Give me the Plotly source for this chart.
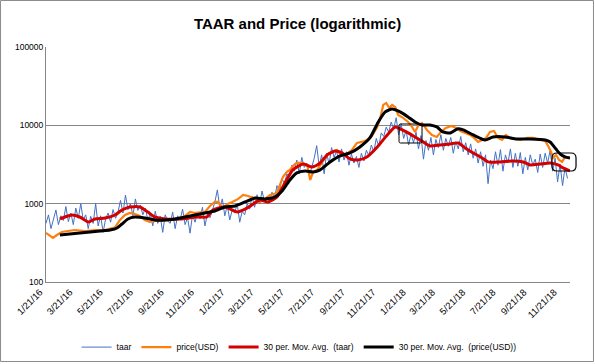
import pandas as pd
import plotly.graph_objects as go

# ---------------- data ----------------
taar_start = "2016-01-21"
taar = [
    560, 720, 480, 650, 830, 540, 700, 610, 920, 590,
    760, 540, 880, 650, 1000, 620, 720, 480, 690, 560,
    1000, 520, 700, 430, 640, 760, 580, 840, 650, 780,
    1100, 760, 1290, 840, 1000, 700, 1150, 820, 960, 720,
    880, 620, 740, 520, 800, 560, 690, 430, 720, 600,
    560, 780, 480, 700, 620, 850, 540, 660, 420, 720,
    580, 760, 640, 900, 520, 740, 660, 820, 1050, 1500,
    880, 1150, 700, 950, 620, 840, 760, 1000, 580, 800,
    720, 1000, 850, 1250, 900, 1300, 1000, 1450, 1050, 1200,
    1050, 1400, 1150, 1700, 1450, 2100, 1800, 2400, 2200, 3100,
    2600, 3600, 2400, 3900, 2900, 3300, 2300, 2900, 3800, 5500,
    3000, 4200, 2400, 4400, 3200, 5200, 3900, 4700, 3400, 5000,
    3600, 4600, 3100, 4300, 3300, 4000, 2900, 4400, 3500, 4800,
    4100, 5600, 4600, 6800, 5400, 8000, 7200, 9500, 8200, 11000,
    9000, 12500, 7600, 10500, 6800, 8600, 5600, 7800, 6000, 8200,
    5000, 7400, 3700, 6400, 4800, 7000, 4200, 6600, 5200, 7600,
    4800, 6800, 5400, 7000, 4400, 6200, 5000, 7200, 4600, 6000,
    4200, 5800, 3800, 5000, 3300, 4600, 3000, 4200, 1800, 3600,
    2800, 4600, 3100, 4900, 2600, 4200, 3300, 5000, 2900, 4400,
    3000, 4500, 2400, 3900, 2700, 4200, 3100, 3700, 2500, 4300,
    2900, 4400, 3300, 4800, 2600, 3800, 1900, 3200, 1700, 2900, 2100,
]
taar_dates = pd.date_range(taar_start, periods=len(taar), freq="5D")

price_dates = [
    "2016-01-21", "2016-01-29", "2016-02-04", "2016-02-12", "2016-02-22", "2016-03-05",
    "2016-03-19", "2016-04-09", "2016-04-29", "2016-05-19", "2016-05-29", "2016-06-08",
    "2016-06-18", "2016-06-28", "2016-07-08", "2016-07-18", "2016-07-28", "2016-08-07",
    "2016-08-17", "2016-08-27", "2016-09-07", "2016-09-27", "2016-10-17", "2016-10-27",
    "2016-11-06", "2016-11-16", "2016-12-06", "2016-12-16", "2016-12-26", "2017-01-01",
    "2017-01-11", "2017-01-21", "2017-01-30", "2017-02-11", "2017-02-21", "2017-03-03",
    "2017-03-13", "2017-03-27", "2017-04-06", "2017-04-16", "2017-04-30", "2017-05-06",
    "2017-05-12", "2017-05-20", "2017-05-26", "2017-06-03", "2017-06-09", "2017-06-20",
    "2017-06-30", "2017-07-06", "2017-07-12", "2017-07-20", "2017-07-30", "2017-08-09",
    "2017-08-19", "2017-08-29", "2017-09-08", "2017-09-18", "2017-09-28", "2017-10-08",
    "2017-10-18", "2017-10-28", "2017-11-07", "2017-11-18", "2017-11-24", "2017-11-30",
    "2017-12-06", "2017-12-12", "2017-12-18", "2017-12-24", "2017-12-30", "2018-01-09",
    "2018-01-19", "2018-01-27", "2018-02-02", "2018-02-08", "2018-02-16", "2018-02-26",
    "2018-03-08", "2018-03-18", "2018-03-26", "2018-04-05", "2018-04-16", "2018-04-26",
    "2018-05-04", "2018-05-14", "2018-05-24", "2018-06-01", "2018-06-09", "2018-06-17",
    "2018-06-25", "2018-07-03", "2018-07-11", "2018-07-19", "2018-07-27", "2018-08-04",
    "2018-08-12", "2018-08-22", "2018-09-02", "2018-09-16", "2018-09-28", "2018-10-12",
    "2018-10-22", "2018-10-28", "2018-11-03", "2018-11-07", "2018-11-13", "2018-11-19",
    "2018-11-25", "2018-12-01", "2018-12-07", "2018-12-11",
]
price = [
    423, 387, 365, 398, 435, 448,
    461, 448, 461, 461, 475, 500,
    619, 717, 761, 739, 697, 619,
    584, 601, 601, 619, 657, 697,
    783, 761, 783, 935, 1051, 1051,
    881, 991, 1051, 1150, 1291, 1254,
    1183, 1051, 1150, 1291, 1370, 1733,
    2193, 2541, 2695, 3120, 3310, 3310,
    3120, 2008, 2541, 2695, 3410, 4190,
    4575, 4850, 4070, 4320, 4850, 5960,
    6140, 6510, 7320, 9540, 12430, 18200,
    19300, 16700, 18200, 17180, 13580, 12430,
    11050, 9540, 8235, 9825, 10730, 8735,
    7540, 7110, 8235, 9265, 9825, 9265,
    8480, 8000, 7540, 6905, 6140, 6510,
    6905, 8235, 8480, 6905, 6510, 7540,
    6905, 6700, 6510, 6905, 6905, 6510,
    6330, 5460, 4575, 3835, 4190, 3615,
    3410, 3950, 3835, 3835,
]

ma_taar_dates = [
    "2016-02-18", "2016-02-28", "2016-03-13", "2016-03-29", "2016-04-15", "2016-04-29",
    "2016-05-19", "2016-06-08", "2016-06-22", "2016-07-08", "2016-07-28", "2016-08-13",
    "2016-08-27", "2016-09-17", "2016-10-17", "2016-11-20", "2016-12-10", "2016-12-22",
    "2017-01-15", "2017-02-09", "2017-03-01", "2017-03-27", "2017-04-12", "2017-04-30",
    "2017-05-16", "2017-06-01", "2017-06-22", "2017-07-10", "2017-07-26", "2017-08-09",
    "2017-08-25", "2017-09-08", "2017-09-24", "2017-10-10", "2017-10-28", "2017-11-18",
    "2017-12-08", "2017-12-24", "2018-01-03", "2018-01-19", "2018-02-02", "2018-02-12",
    "2018-03-04", "2018-03-24", "2018-04-14", "2018-04-30", "2018-05-14", "2018-05-30",
    "2018-06-17", "2018-06-29", "2018-07-23", "2018-08-18", "2018-09-08", "2018-09-22",
    "2018-10-12", "2018-11-01", "2018-11-17", "2018-11-27", "2018-12-11",
]
ma_taar = [
    638, 676, 717, 676, 584, 638,
    657, 717, 831, 908, 908, 783,
    676, 638, 638, 676, 676, 831,
    908, 783, 881, 1115, 1051, 1218,
    1840, 2695, 3210, 2943, 3310, 4190,
    4710, 4440, 3720, 3615, 3950, 5300,
    7540, 9540, 8995, 8000, 7110, 6510,
    5460, 5620, 5790, 5960, 5145, 4440,
    3835, 3410, 3410, 3510, 3410, 3120,
    3210, 3310, 3120, 2858, 2616,
]

ma_price_dates = [
    "2016-02-18", "2016-03-09", "2016-03-29", "2016-04-19", "2016-05-09", "2016-05-29",
    "2016-06-12", "2016-06-22", "2016-07-04", "2016-07-18", "2016-08-07", "2016-08-27",
    "2016-09-17", "2016-10-07", "2016-10-27", "2016-11-16", "2016-12-06", "2016-12-26",
    "2017-01-15", "2017-02-05", "2017-02-25", "2017-03-17", "2017-04-06", "2017-04-26",
    "2017-05-12", "2017-05-26", "2017-06-09", "2017-06-26", "2017-07-12", "2017-07-26",
    "2017-08-15", "2017-09-04", "2017-09-24", "2017-10-14", "2017-11-03", "2017-11-20",
    "2017-12-04", "2017-12-18", "2018-01-03", "2018-01-19", "2018-02-02", "2018-02-16",
    "2018-03-04", "2018-03-18", "2018-03-30", "2018-04-14", "2018-04-28", "2018-05-10",
    "2018-05-30", "2018-06-23", "2018-07-09", "2018-08-02", "2018-08-26", "2018-09-22",
    "2018-10-22", "2018-11-01", "2018-11-11", "2018-11-21", "2018-12-01", "2018-12-11",
]
ma_price = [
    398, 410, 423, 435, 448, 461,
    489, 550, 638, 676, 657, 619,
    619, 638, 676, 717, 761, 807,
    908, 935, 1051, 1183, 1150, 1218,
    1496, 2008, 2470, 2616, 2541, 2695,
    3410, 4070, 4440, 5300, 6905, 11050,
    14830, 16200, 14830, 12800, 11050, 10120,
    10120, 9540, 8235, 8000, 8995, 8735,
    7540, 6510, 7110, 7110, 6700, 6700,
    6510, 6140, 5145, 4320, 3950, 3835,
]

tick_dates = [
    "2016-01-21", "2016-03-21", "2016-05-21", "2016-07-21", "2016-09-21", "2016-11-21",
    "2017-01-21", "2017-03-21", "2017-05-21", "2017-07-21", "2017-09-21", "2017-11-21",
    "2018-01-21", "2018-03-21", "2018-05-21", "2018-07-21", "2018-09-21", "2018-11-21",
]
tick_labels = [
    "1/21/16", "3/21/16", "5/21/16", "7/21/16", "9/21/16", "11/21/16",
    "1/21/17", "3/21/17", "5/21/17", "7/21/17", "9/21/17", "11/21/17",
    "1/21/18", "3/21/18", "5/21/18", "7/21/18", "9/21/18", "11/21/18",
]
y_ticks = [100, 1000, 10000, 100000]

# ---------------- figure ----------------
FONT = "Liberation Sans, Arial, sans-serif"
fig = go.Figure()
fig.add_trace(go.Scatter(x=taar_dates, y=taar, mode="lines", name="taar",
                         line=dict(color="#4472C4", width=1)))
fig.add_trace(go.Scatter(x=pd.to_datetime(price_dates), y=price, mode="lines", name="price(USD)",
                         line=dict(color="#FF7F0E", width=2.2)))
fig.add_trace(go.Scatter(x=pd.to_datetime(ma_taar_dates), y=ma_taar, mode="lines",
                         name="30 per. Mov. Avg.\u00a0 (taar)",
                         line=dict(color="#D40000", width=3, shape="spline", smoothing=0.6)))
fig.add_trace(go.Scatter(x=pd.to_datetime(ma_price_dates), y=ma_price, mode="lines",
                         name="30 per. Mov. Avg.\u00a0 (price(USD))",
                         line=dict(color="#000000", width=3, shape="spline", smoothing=0.6)))

# annotation boxes drawn on the original chart (paper coordinates)
def rounded(x0, y0, x1, y1, rx, ry):
    return (f"M {x0+rx},{y0} L {x1-rx},{y0} Q {x1},{y0} {x1},{y0+ry} "
            f"L {x1},{y1-ry} Q {x1},{y1} {x1-rx},{y1} L {x0+rx},{y1} "
            f"Q {x0},{y1} {x0},{y1-ry} L {x0},{y0+ry} Q {x0},{y0} {x0+rx},{y0} Z")

shapes = [
    dict(type="path", xref="paper", yref="paper",
         path=rounded(0.6737, 0.5915, 0.7176, 0.6723, 0.003, 0.007),
         line=dict(color="#000000", width=1)),
    dict(type="path", xref="paper", yref="paper",
         path=rounded(0.9656, 0.4723, 1.0115, 0.5489, 0.0095, 0.0213),
         line=dict(color="#000000", width=1.2)),
    dict(type="rect", xref="paper", yref="paper",
         x0=-0.0868, x1=1.0448, y0=-0.3383, y1=1.1979,
         line=dict(color="#8C8C8C", width=1)),
]

fig.update_layout(
    width=595, height=364, autosize=False,
    margin=dict(l=46, r=25, t=47, b=82, autoexpand=False),
    paper_bgcolor="white", plot_bgcolor="white",
    title=dict(text="<b>TAAR and Price (logarithmic)</b>", x=0.5, xanchor="center",
               xref="container", y=0.934, yanchor="middle", yref="container",
               font=dict(family=FONT, size=15, color="#000000")),
    font=dict(family=FONT, size=9, color="#000000"),
    showlegend=True,
    legend=dict(orientation="h", x=0.483, xanchor="center", y=-0.277, yanchor="middle",
                font=dict(family=FONT, size=8.5), itemwidth=30, bgcolor="rgba(0,0,0,0)",
                traceorder="normal"),
    shapes=shapes,
)
fig.update_xaxes(
    type="date", range=["2016-01-21", "2018-12-11"],
    tickmode="array", tickvals=pd.to_datetime(tick_dates), ticktext=tick_labels,
    tickangle=-45, tickfont=dict(family=FONT, size=9.5), ticklabelshift=-6,
    showgrid=False, showline=True, linecolor="#868686", linewidth=1,
    ticks="", zeroline=False,
)
fig.update_yaxes(
    type="log", range=[2, 5], tickmode="array", tickvals=y_ticks,
    ticktext=[str(v) for v in y_ticks], tickfont=dict(family=FONT, size=8.5),
    showgrid=True, gridcolor="#868686", gridwidth=1,
    showline=True, linecolor="#868686", linewidth=1, ticks="", zeroline=False,
)

fig.write_html(
    "out.html",
    config={"displayModeBar": False},
    post_script="document.body.style.margin='0';document.body.style.padding='0';"
                "document.body.style.overflow='hidden';",
)
